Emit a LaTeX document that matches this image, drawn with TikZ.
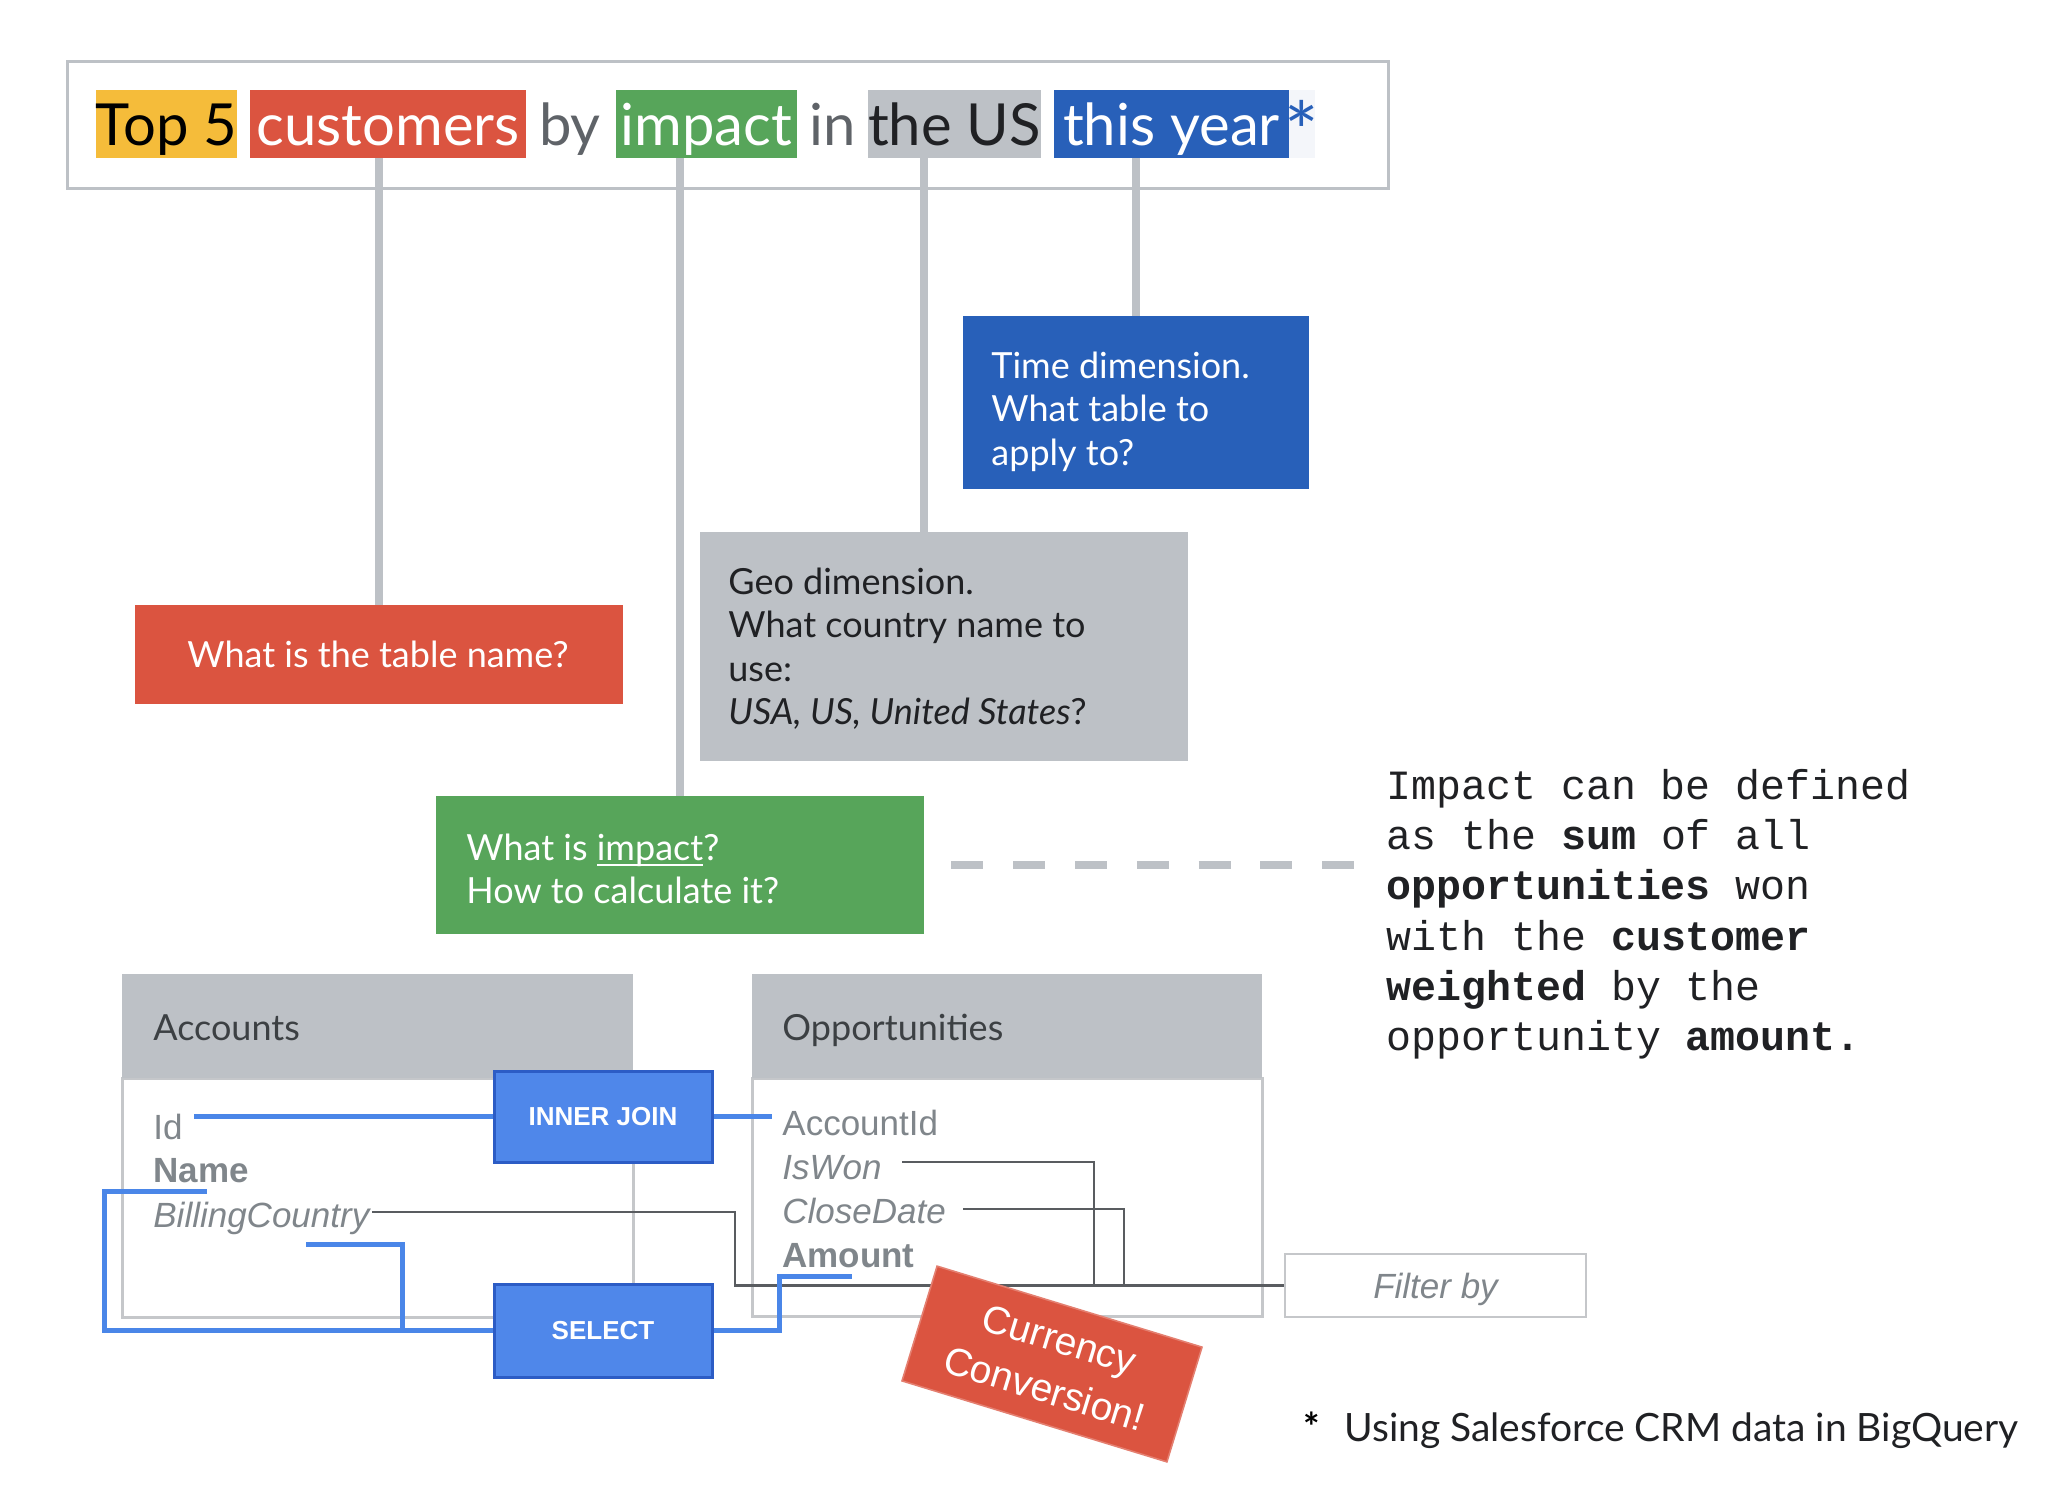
\documentclass[tikz,border=0pt]{standalone}
\usepackage{fontspec}
\setmainfont{Lato}
\newfontfamily\arialf{Liberation Sans}
\newfontfamily\courf{Liberation Mono}
\usetikzlibrary{calc}
\pgfdeclarelayer{back}
\pgfdeclarelayer{mid}
\pgfsetlayers{back,mid,main}
\newcommand\myfs[2]{\fontsize{#1}{#2}\selectfont}
\newcommand\myul[1]{\setbox0\hbox{#1}\rlap{\rule[-2.6pt]{\wd0}{1pt}}\box0}
\definecolor{gy}{HTML}{BDC1C6}
\definecolor{gred}{HTML}{DB5440}
\definecolor{ggreen}{HTML}{57A55A}
\definecolor{gblue}{HTML}{2860B9}
\definecolor{gyellow}{HTML}{F5BC3A}
\definecolor{jblue}{HTML}{4F87EA}
\definecolor{jborder}{HTML}{2C5CC5}
\definecolor{txtdark}{HTML}{202124}
\definecolor{txtgray}{HTML}{5F6368}
\definecolor{fieldgray}{HTML}{80868B}
\definecolor{hdrtxt}{HTML}{3C4043}
\definecolor{wirec}{HTML}{595C60}
\definecolor{bodyline}{HTML}{C5C7CA}
\definecolor{lblue}{HTML}{4A86E8}
\definecolor{starbg}{HTML}{F4F6FA}
\begin{document}
\begin{tikzpicture}[x=0.5pt,y=-0.5pt,
  hl/.style={inner sep=0pt, text height=27.5pt, text depth=6.5pt, anchor=base, font=\myfs{29}{34}},
  conn/.style={draw=gy, line width=4pt},
  box/.style={inner sep=0pt, draw=none},
  ctext/.style={inner sep=0pt, anchor=north west, align=left, font=\myfs{18}{21.75}},
  field/.style={inner sep=0pt, anchor=base west, text=fieldgray, font=\arialf\myfs{17.5}{21}},
  hdr/.style={inner sep=0pt, anchor=base west, text=hdrtxt, font=\myfs{18}{21}},
  joinbox/.style={inner sep=0pt, fill=jblue, draw=jborder, line width=1.5pt, text=white, text height=9.3pt, text depth=0pt, font=\arialf\bfseries\myfs{13}{15}},
  wire/.style={draw=wirec, line width=1.4pt},
  bw/.style={draw=lblue, line width=2.5pt, line cap=rect},
  dashln/.style={draw=gy, line width=4pt, dash pattern=on 16pt off 14.9pt}
]
\useasboundingbox (0,0) rectangle (2066,1488);

% header frame
\node[draw=gy, line width=1.5pt, minimum width=660.5pt, minimum height=63.5pt, inner sep=0pt] (frame) at (727.5,124.5) {};

% highlighted words
\node[hl, fill=gyellow, minimum width=70.5pt, text=black] (top5) at (166.5,145) {Top 5};
\node[hl, fill=gred, minimum width=138pt, text=white] (cust) at (388,145) {customers};
\node[hl, text=txtgray] (by) at (570,145) {by};
\node[hl, fill=ggreen, minimum width=90.5pt, text=white] (imp) at (706.5,145) {impact};
\node[hl, text=txtgray] (in) at (832.5,145) {in};
\node[hl, fill=gy, minimum width=85.5pt, text=txtdark] (us) at (954.5,145) {the US};
\node[hl, fill=gblue, minimum width=117.5pt, text=white] (year) at (1171.5,145) {this year};
\node[hl, fill=starbg, minimum width=13pt, text=gblue] (star) at (1302,145) {\makebox[0pt]{\raisebox{-8pt}{\scalebox{1.4}{*}}}};

% callout boxes
\node[box, fill=gred, minimum width=244pt, minimum height=49.5pt] (qtable) at (379,654.5) {};
\node[box, fill=gblue, minimum width=173pt, minimum height=86.5pt] (time) at (1136,402.5) {};
\node[box, fill=gy, minimum width=244pt, minimum height=114.5pt] (geo) at (944,646.5) {};
\node[box, fill=ggreen, minimum width=244pt, minimum height=69pt] (grn) at (680,865) {};

% connectors from words to callouts
\draw[conn] (cust.south -| qtable.north) -- (qtable.north);
\draw[conn] (imp.south -| grn.north) -- (grn.north);
\draw[conn] ([xshift=-10pt]geo.north |- us.south) -- ([xshift=-10pt]geo.north);
\draw[conn] (year.south -| time.north) -- (time.north);

% callout texts
\node[inner sep=0pt, anchor=base west, text=white, font=\myfs{18}{21.75}] (qtablet) at (187,667) {What is the table name?};
\node[ctext, text=white] (timet) at (991,347.5) {\strut Time dimension.\\What table to\\apply to?};
\node[ctext, text=txtdark] (geot) at (728,563.5) {\strut Geo dimension.\\What country name to\\use:\\\textit{USA, US, United States}?};
\node[ctext, text=white] (grnt) at (466,829.5) {\strut What is \myul{impact}?\\How to calculate it?};

% dashed link to definition
\coordinate (dashE) at (1358,865);
\draw[dashln] ([xshift=13.5pt]grn.east) -- (dashE);
\node[inner sep=0pt, anchor=north west, align=left, text=txtdark, font=\courf\myfs{20.8}{25.1}] (impdef) at (1386,763.9)
  {\strut Impact can be defined\\as the \textbf{sum} of all\\\textbf{opportunities} won\\with the \textbf{customer}\\\textbf{weighted} by the\\opportunity \textbf{amount.}};

% tables (background layer)
\begin{pgfonlayer}{back}
\node[box, draw=bodyline, line width=1.5pt, fill=white, minimum width=255.5pt, minimum height=119.5pt] (accb) at (377.5,1197.5) {};
\node[box, fill=gy, minimum width=255.5pt, minimum height=52pt] (acc) at (377.5,1026) {};
\node[box, draw=bodyline, line width=1.5pt, fill=white, minimum width=255pt, minimum height=119pt] (oppb) at (1007,1197) {};
\node[box, fill=gy, minimum width=255pt, minimum height=52pt] (opp) at (1007,1026) {};
\end{pgfonlayer}
\node[hdr] (acct) at (153,1040) {Accounts};
\node[hdr] (oppt) at (782,1040) {Opportunities};

\node[field] (fId) at (153,1139) {Id};
\node[field, font=\arialf\bfseries\myfs{17.5}{21}] (fName) at (153,1182) {Name};
\node[field, font=\arialf\itshape\myfs{17.5}{21}] (fBC) at (153,1227) {BillingCountry};
\node[field] (fAcc) at (782,1135) {AccountId};
\node[field, font=\arialf\itshape\myfs{17.5}{21}] (fWon) at (782,1179) {IsWon};
\node[field, font=\arialf\itshape\myfs{17.5}{21}] (fCD) at (782,1223) {CloseDate};
\node[field, font=\arialf\bfseries\myfs{17.5}{21}] (fAmt) at (782,1267) {Amount};

% filter box
\node[inner sep=0pt, draw=bodyline, line width=1.2pt, minimum width=150.5pt, minimum height=31.5pt, text height=12.5pt, text depth=0pt, text=fieldgray, font=\arialf\itshape\myfs{17.5}{21}] (filt) at (1435.5,1285.5) {Filter by};

% join boxes
\node[joinbox, minimum width=109pt, minimum height=45.5pt] (ij) at (603,1116.5) {INNER JOIN};
\node[joinbox, minimum width=109pt, minimum height=46.5pt] (sel) at (603,1330.5) {SELECT};

% wires (middle layer: above tables, below boxes)
\begin{pgfonlayer}{mid}
\coordinate (bcS) at (372,1212);
\coordinate (bcT) at (735,1212);
\draw[wire] (bcS) -- (bcT) |- (filt.west);
\coordinate (iwS) at (902,1162);
\coordinate (iwT) at (1094,1285.5);
\draw[wire] (iwS) -| (iwT);
\coordinate (cdS) at (963,1209);
\coordinate (cdT) at (1124,1285.5);
\draw[wire] (cdS) -| (cdT);

\coordinate (idE) at (196,1116.5);
\draw[bw] (idE) -- (ij.west);
\coordinate (accE) at (769,1116.5);
\draw[bw] (ij.east) -- (accE);
\coordinate (nmE) at (204,1191);
\coordinate (lftC) at (104,1330.5);
\draw[bw] (nmE) -| (lftC) -- (sel.west);
\coordinate (bcE) at (308,1244);
\coordinate (bcC) at (402,1330.5);
\draw[bw] (bcE) -| (bcC);
\coordinate (amC) at (779,1276);
\coordinate (amE) at (849,1276);
\draw[bw] (sel.east) -| (amC) -- (amE);
\end{pgfonlayer}

% currency conversion
\node[fill=gred, draw=gred!75!white, line width=0.8pt, minimum width=138.5pt, minimum height=60pt, rotate=-17, align=center, text=white, inner sep=0pt, font=\arialf\myfs{19.5}{25.8}] (curr) at (1052,1364) {Currency\\Conversion!};

% footnote
\node[inner sep=0pt, anchor=base west, text=black, font=\bfseries\myfs{19.5}{24}] (fnstar) at (1303,1441) {*};
\node[inner sep=0pt, anchor=base west, text=txtdark, font=\myfs{19.5}{24}] (fn) at (1344,1441) {Using Salesforce CRM data in BigQuery};
\end{tikzpicture}
\end{document}
